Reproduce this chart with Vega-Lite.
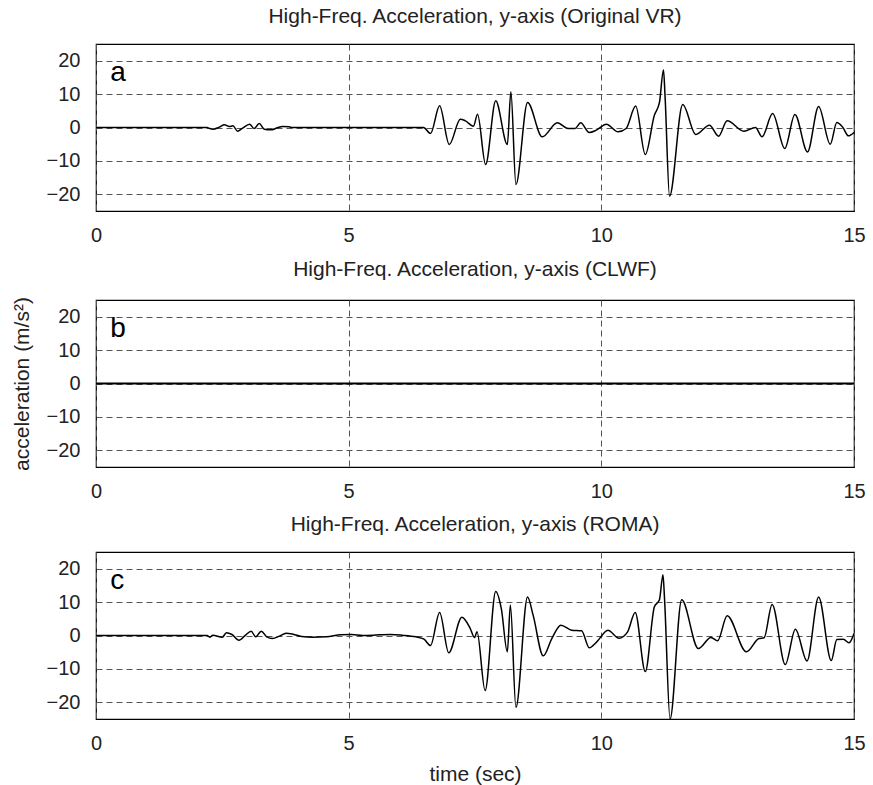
{
  "$schema": "https://vega.github.io/schema/vega-lite/v6.json",
  "background": "white",
  "padding": {"top": 5, "left": 10, "right": 5, "bottom": 5},
  "spacing": 11,
  "datasets": {
    "a": [
      {"t": 0, "v": 0}, {"t": 2.2, "v": 0}, {"t": 2.25, "v": -0.3}, {"t": 2.31, "v": -0.5}, {"t": 2.44, "v": 0.1},
      {"t": 2.54, "v": 0.8}, {"t": 2.64, "v": 0.3}, {"t": 2.71, "v": 0.5}, {"t": 2.8, "v": -1.1}, {"t": 2.9, "v": -0.2},
      {"t": 3.04, "v": 1}, {"t": 3.13, "v": -0.3}, {"t": 3.23, "v": 1.2}, {"t": 3.33, "v": -0.5}, {"t": 3.46, "v": -0.7},
      {"t": 3.59, "v": -0.1}, {"t": 3.69, "v": 0.3}, {"t": 3.82, "v": 0.2}, {"t": 3.89, "v": 0}, {"t": 6.48, "v": 0},
      {"t": 6.62, "v": -1.8}, {"t": 6.8, "v": 6.5}, {"t": 6.99, "v": -5.1}, {"t": 7.21, "v": 2.5}, {"t": 7.31, "v": 2},
      {"t": 7.47, "v": 0.4}, {"t": 7.55, "v": 4}, {"t": 7.71, "v": -11.1}, {"t": 7.91, "v": 8}, {"t": 8.14, "v": -5.1},
      {"t": 8.21, "v": 10.7}, {"t": 8.31, "v": -17.1}, {"t": 8.54, "v": 7.5}, {"t": 8.83, "v": -2.8}, {"t": 9.13, "v": 1.4},
      {"t": 9.34, "v": -0.3}, {"t": 9.48, "v": -0.3}, {"t": 9.59, "v": 1.4}, {"t": 9.76, "v": -1.5}, {"t": 9.9, "v": -0.8},
      {"t": 10.1, "v": 1}, {"t": 10.33, "v": -1.3}, {"t": 10.49, "v": -0.3}, {"t": 10.68, "v": 6.4}, {"t": 10.87, "v": -8.1},
      {"t": 11.05, "v": 3.7}, {"t": 11.15, "v": 7.5}, {"t": 11.23, "v": 17.2}, {"t": 11.26, "v": 9.7}, {"t": 11.35, "v": -20.6},
      {"t": 11.61, "v": 6.9}, {"t": 11.87, "v": -2.1}, {"t": 12.14, "v": 0.7}, {"t": 12.32, "v": -2.6}, {"t": 12.49, "v": 2},
      {"t": 12.82, "v": -1.1}, {"t": 13.05, "v": 0}, {"t": 13.18, "v": -2.8}, {"t": 13.39, "v": 4.2}, {"t": 13.63, "v": -6.3},
      {"t": 13.83, "v": 3.9}, {"t": 14.08, "v": -7.3}, {"t": 14.3, "v": 6.3}, {"t": 14.53, "v": -5}, {"t": 14.66, "v": 1.5},
      {"t": 14.78, "v": 0}, {"t": 14.89, "v": -2.5}, {"t": 15, "v": -1.5}
    ],
    "b": [{"t": 0, "v": 0}, {"t": 15, "v": 0}],
    "c": [
      {"t": 0, "v": 0}, {"t": 2.2, "v": 0}, {"t": 2.25, "v": -0.5}, {"t": 2.31, "v": 0.1}, {"t": 2.5, "v": -0.5},
      {"t": 2.58, "v": 0.8}, {"t": 2.69, "v": 0.3}, {"t": 2.83, "v": -1.4}, {"t": 2.96, "v": 0.1}, {"t": 3.07, "v": 1.3},
      {"t": 3.16, "v": -0.4}, {"t": 3.27, "v": 1.3}, {"t": 3.38, "v": -0.4}, {"t": 3.49, "v": -0.9}, {"t": 3.63, "v": -0.2},
      {"t": 3.76, "v": 0.7}, {"t": 3.9, "v": 0.4}, {"t": 4.07, "v": -0.3}, {"t": 4.29, "v": -0.5}, {"t": 4.56, "v": -0.4},
      {"t": 4.84, "v": 0.2}, {"t": 5.06, "v": 0.3}, {"t": 5.28, "v": 0}, {"t": 5.61, "v": 0.2}, {"t": 5.83, "v": 0.3},
      {"t": 6.05, "v": 0.1}, {"t": 6.33, "v": -0.4}, {"t": 6.49, "v": -1.1}, {"t": 6.62, "v": -3}, {"t": 6.8, "v": 6.9},
      {"t": 6.98, "v": -5.2}, {"t": 7.24, "v": 5.5}, {"t": 7.4, "v": 2.3}, {"t": 7.49, "v": -0.6}, {"t": 7.54, "v": 1.1},
      {"t": 7.7, "v": -16.5}, {"t": 7.91, "v": 13.2}, {"t": 8.02, "v": 8.1}, {"t": 8.14, "v": -4.9}, {"t": 8.2, "v": 9.1},
      {"t": 8.31, "v": -21.5}, {"t": 8.54, "v": 11.5}, {"t": 8.65, "v": 6.1}, {"t": 8.85, "v": -6.1}, {"t": 9.02, "v": -0.9},
      {"t": 9.2, "v": 3.1}, {"t": 9.41, "v": 1.6}, {"t": 9.61, "v": 1.4}, {"t": 9.76, "v": -3.7}, {"t": 9.91, "v": -1.9},
      {"t": 10.13, "v": 1.6}, {"t": 10.35, "v": -0.8}, {"t": 10.52, "v": 1.1}, {"t": 10.67, "v": 6.9}, {"t": 10.87, "v": -10.8},
      {"t": 11.05, "v": 8.6}, {"t": 11.15, "v": 10.7}, {"t": 11.22, "v": 18.2}, {"t": 11.25, "v": 11.2}, {"t": 11.36, "v": -25},
      {"t": 11.59, "v": 10.7}, {"t": 11.92, "v": -3.9}, {"t": 12.17, "v": -0.6}, {"t": 12.3, "v": -1.6}, {"t": 12.49, "v": 5.9},
      {"t": 12.87, "v": -4.9}, {"t": 13.12, "v": -0.9}, {"t": 13.22, "v": -0.7}, {"t": 13.38, "v": 9.3}, {"t": 13.64, "v": -8.7},
      {"t": 13.84, "v": 1.9}, {"t": 14.07, "v": -7.6}, {"t": 14.3, "v": 11.5}, {"t": 14.55, "v": -7.5}, {"t": 14.66, "v": -1.2},
      {"t": 14.79, "v": -1.1}, {"t": 14.9, "v": -2.2}, {"t": 15, "v": 0.6}
    ],
    "la": [{"t": 0.28, "v": 14, "label": "a"}],
    "lb": [{"t": 0.28, "v": 14, "label": "b"}],
    "lc": [{"t": 0.28, "v": 14, "label": "c"}]
  },
  "vconcat": [
    {
      "width": 758, "height": 167,
      "title": "High-Freq. Acceleration, y-axis (Original VR)",
      "layer": [
        {
          "data": {"name": "a"},
          "mark": {"type": "line", "color": "black", "strokeWidth": 1.5, "interpolate": "monotone", "clip": true},
          "encoding": {
            "x": {"field": "t", "type": "quantitative", "scale": {"domain": [0, 15], "nice": false}, "axis": {"values": [0, 5, 10, 15], "title": null}},
            "y": {"field": "v", "type": "quantitative", "scale": {"domain": [-25, 25], "nice": false}, "axis": {"values": [-20, -10, 0, 10, 20], "title": null}}
          }
        },
        {
          "data": {"name": "la"},
          "mark": {"type": "text", "fontSize": 28, "font": "Liberation Sans", "align": "left", "baseline": "alphabetic", "color": "black"},
          "encoding": {
            "x": {"field": "t", "type": "quantitative"},
            "y": {"field": "v", "type": "quantitative"},
            "text": {"field": "label"}
          }
        }
      ]
    },
    {
      "width": 758, "height": 167,
      "title": "High-Freq. Acceleration, y-axis (CLWF)",
      "layer": [
        {
          "data": {"name": "b"},
          "mark": {"type": "line", "color": "black", "strokeWidth": 2, "clip": true},
          "encoding": {
            "x": {"field": "t", "type": "quantitative", "scale": {"domain": [0, 15], "nice": false}, "axis": {"values": [0, 5, 10, 15], "title": null}},
            "y": {"field": "v", "type": "quantitative", "scale": {"domain": [-25, 25], "nice": false}, "axis": {"values": [-20, -10, 0, 10, 20], "title": "acceleration (m/s²)"}}
          }
        },
        {
          "data": {"name": "lb"},
          "mark": {"type": "text", "fontSize": 28, "font": "Liberation Sans", "align": "left", "baseline": "alphabetic", "color": "black"},
          "encoding": {
            "x": {"field": "t", "type": "quantitative"},
            "y": {"field": "v", "type": "quantitative"},
            "text": {"field": "label"}
          }
        }
      ]
    },
    {
      "width": 758, "height": 167,
      "title": "High-Freq. Acceleration, y-axis (ROMA)",
      "layer": [
        {
          "data": {"name": "c"},
          "mark": {"type": "line", "color": "black", "strokeWidth": 1.5, "interpolate": "monotone", "clip": true},
          "encoding": {
            "x": {"field": "t", "type": "quantitative", "scale": {"domain": [0, 15], "nice": false}, "axis": {"values": [0, 5, 10, 15], "title": "time (sec)"}},
            "y": {"field": "v", "type": "quantitative", "scale": {"domain": [-25, 25], "nice": false}, "axis": {"values": [-20, -10, 0, 10, 20], "title": null}}
          }
        },
        {
          "data": {"name": "lc"},
          "mark": {"type": "text", "fontSize": 28, "font": "Liberation Sans", "align": "left", "baseline": "alphabetic", "color": "black"},
          "encoding": {
            "x": {"field": "t", "type": "quantitative"},
            "y": {"field": "v", "type": "quantitative"},
            "text": {"field": "label"}
          }
        }
      ]
    }
  ],
  "config": {
    "font": "Liberation Sans",
    "view": {"stroke": "black", "strokeWidth": 1.2},
    "title": {"fontSize": 21, "fontWeight": "normal", "font": "Liberation Sans", "color": "#222", "offset": 17, "anchor": "middle"},
    "axis": {
      "domain": false,
      "ticks": false,
      "grid": true,
      "gridColor": "#555",
      "gridDash": [6, 4],
      "gridWidth": 1,
      "gridOpacity": 1,
      "labelFont": "Liberation Sans",
      "labelFontSize": 20,
      "labelColor": "#222",
      "titleFont": "Liberation Sans",
      "titleFontSize": 21,
      "titleFontWeight": "normal",
      "titleColor": "#222"
    },
    "axisX": {"labelPadding": 14, "titlePadding": 10, "labelFlush": false},
    "axisY": {"labelPadding": 16, "titlePadding": 14}
  }
}
